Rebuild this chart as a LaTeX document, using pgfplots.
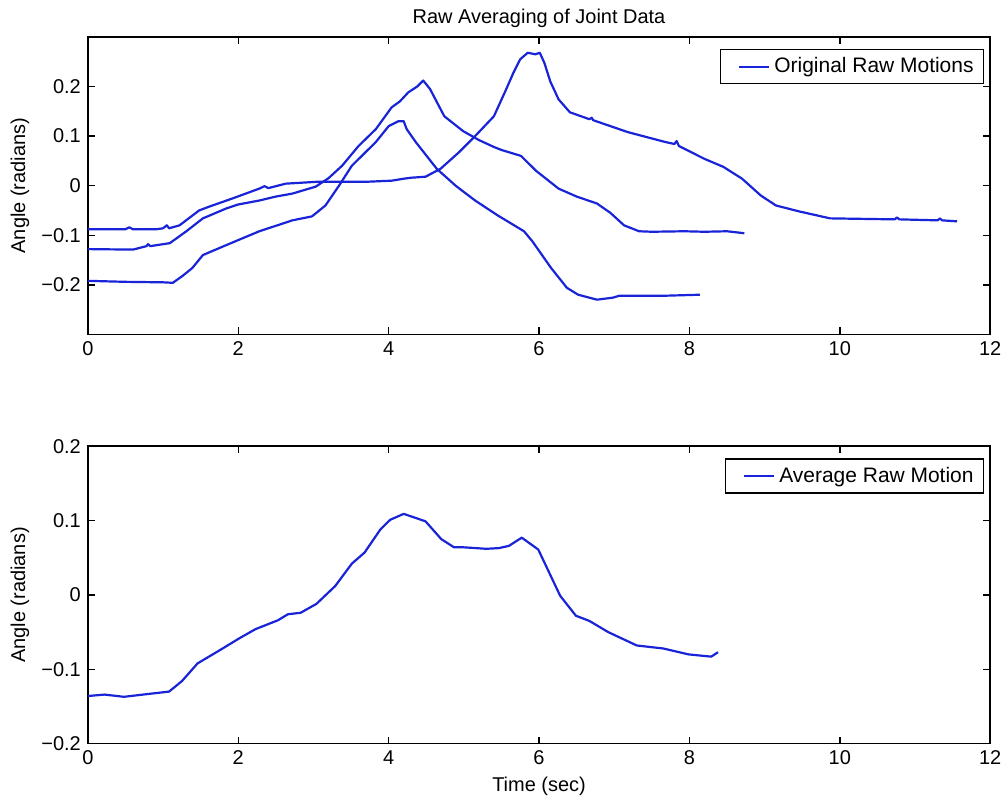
\documentclass[border=0pt]{standalone}
\usepackage{fontspec}
\setmainfont{Liberation Sans}
\usepackage{pgfplots}
\pgfplotsset{compat=1.18}

\definecolor{rawblue}{RGB}{25,35,215}

\pgfplotsset{
  raw/.style={rawblue, line width=1.1pt, line join=round, mark=none},
  matlab/.style={
    scale only axis, width=452pt, height=149pt,
    xmin=0, xmax=12, xtick={0,2,...,12},
    tick align=inside, major tick length=3.5pt,
    axis line style={line width=0.8pt},
    tick style={black, line width=0.7pt},
    ticklabel style={font=\fontsize{10}{12}\selectfont},
    label style={font=\fontsize{10}{12}\selectfont},
    /pgf/number format/assume math mode=true,
    every axis y label/.style={at={(axis description cs:0,0.5)}, xshift=-34pt, rotate=90, anchor=center},
    every axis x label/.style={at={(axis description cs:0.5,0)}, yshift=-21.5pt, anchor=center},
    every axis title/.style={at={(axis description cs:0.5,1)}, yshift=9.5pt, anchor=center, font=\fontsize{10}{12}\selectfont},
    legend style={at={(1,1)}, anchor=north east, xshift=-3pt, yshift=-6pt,
      draw=black, line width=0.7pt, fill=white,
      font=\fontsize{10.5}{12.5}\selectfont, inner xsep=3pt, inner ysep=2pt},
    legend image code/.code={\path (0pt,0pt); \draw[#1, line width=1.1pt] (6pt,0pt) -- (21pt,0pt);},
  }
}

\begin{document}
\begin{tikzpicture}
% bottom: averaged motion
\begin{axis}[matlab, name=bot,
  ymin=-0.2, ymax=0.2, ytick={-0.2,-0.1,0,0.1,0.2},
  yticklabels={−0.2,−0.1,0,0.1,0.2},
  xlabel={Time (sec)}, ylabel={Angle (radians)}]
\addplot[raw] coordinates {
  (0,-0.136) (0.22,-0.134) (0.48,-0.137) (0.82,-0.133) (1.08,-0.130)
  (1.25,-0.116) (1.46,-0.092) (1.76,-0.074) (2.02,-0.058) (2.23,-0.046)
  (2.53,-0.034) (2.66,-0.026) (2.83,-0.024) (3.04,-0.012) (3.29,0.012)
  (3.51,0.042) (3.68,0.057) (3.89,0.088) (4.02,0.101) (4.20,0.109)
  (4.49,0.099) (4.70,0.075) (4.87,0.064) (5.00,0.064) (5.30,0.062)
  (5.47,0.063) (5.60,0.066) (5.77,0.077) (5.99,0.061) (6.28,-0.001)
  (6.49,-0.028) (6.67,-0.035) (6.92,-0.050) (7.30,-0.068) (7.65,-0.072)
  (7.99,-0.080) (8.29,-0.083) (8.38,-0.077)
};
\addlegendentry{Average Raw Motion}
\end{axis}

% top: raw motions
\begin{axis}[matlab, name=top, at={(0pt,205pt)},
  ymin=-0.3, ymax=0.3, ytick={-0.2,-0.1,0,0.1,0.2},
  yticklabels={−0.2,−0.1,0,0.1,0.2},
  title={Raw Averaging of Joint Data}, ylabel={Angle (radians)}]
\addplot[raw] coordinates {
  (0,-0.088) (0.5,-0.088) (0.55,-0.084) (0.6,-0.088) (0.91,-0.088)
  (1.0,-0.086) (1.05,-0.080) (1.08,-0.086) (1.22,-0.080) (1.48,-0.050)
  (1.62,-0.042) (1.92,-0.026) (2.28,-0.006) (2.35,-0.001) (2.4,-0.005)
  (2.63,0.004) (3.07,0.008) (3.5,0.008) (3.73,0.008) (4.04,0.010)
  (4.2,0.014) (4.3,0.016) (4.49,0.018) (4.69,0.034) (4.94,0.068)
  (5.15,0.100) (5.4,0.140) (5.55,0.190) (5.66,0.228) (5.75,0.255)
  (5.85,0.268) (5.95,0.265) (6.01,0.268) (6.07,0.248) (6.15,0.210)
  (6.26,0.174) (6.41,0.148) (6.67,0.134) (6.7,0.137) (6.72,0.132)
  (7.18,0.108) (7.68,0.088) (7.8,0.084) (7.83,0.090) (7.86,0.080)
  (8.2,0.054) (8.45,0.038) (8.7,0.014) (8.95,-0.020) (9.15,-0.040)
  (9.46,-0.052) (9.87,-0.066) (10.73,-0.068) (10.76,-0.064) (10.79,-0.068)
  (11.3,-0.070) (11.33,-0.066) (11.36,-0.070) (11.56,-0.072)
};
\addlegendentry{Original Raw Motions}
\addplot[raw] coordinates {
  (0,-0.128) (0.6,-0.129) (0.78,-0.122) (0.8,-0.118) (0.83,-0.122)
  (1.09,-0.116) (1.31,-0.092) (1.53,-0.066) (1.84,-0.046) (2.0,-0.038)
  (2.28,-0.030) (2.5,-0.022) (2.72,-0.016) (3.03,-0.002) (3.2,0.015)
  (3.38,0.040) (3.6,0.080) (3.83,0.114) (4.04,0.158) (4.15,0.170)
  (4.26,0.188) (4.38,0.200) (4.46,0.212) (4.55,0.195) (4.74,0.140)
  (4.99,0.110) (5.2,0.092) (5.4,0.078) (5.5,0.072) (5.76,0.060)
  (5.96,0.030) (6.26,-0.006) (6.5,-0.022) (6.77,-0.036) (6.95,-0.055)
  (7.13,-0.080) (7.33,-0.092) (7.5,-0.093) (7.93,-0.092) (8.2,-0.093)
  (8.5,-0.092) (8.73,-0.096)
};
\addplot[raw] coordinates {
  (0,-0.192) (0.5,-0.194) (1.0,-0.195) (1.13,-0.196) (1.26,-0.182)
  (1.39,-0.166) (1.53,-0.140) (1.84,-0.120) (2.28,-0.092) (2.72,-0.070)
  (2.98,-0.062) (3.16,-0.040) (3.34,0.000) (3.51,0.040) (3.83,0.088)
  (4.0,0.120) (4.13,0.130) (4.2,0.130) (4.24,0.114) (4.36,0.088)
  (4.64,0.034) (4.89,0.000) (5.15,-0.030) (5.45,-0.060) (5.8,-0.092)
  (5.91,-0.112) (6.16,-0.166) (6.37,-0.206) (6.52,-0.220) (6.77,-0.230)
  (6.98,-0.226) (7.07,-0.222) (7.68,-0.222) (8.14,-0.220)
};
\end{axis}

\path ([shift={(-44pt,-28pt)}]bot.south west) rectangle ([shift={(7.5pt,18.5pt)}]top.north east);
\end{tikzpicture}
\end{document}
